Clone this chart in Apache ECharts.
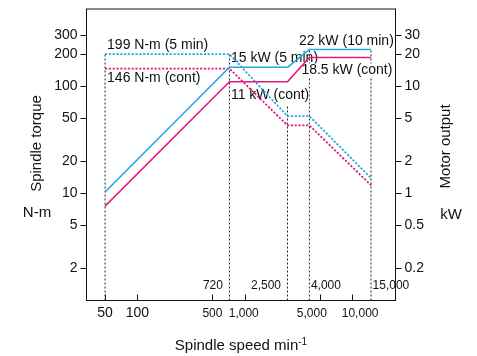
<!DOCTYPE html>
<html>
<head>
<meta charset="utf-8">
<script src="https://cdn.jsdelivr.net/npm/echarts@6/dist/echarts.min.js"></script>
<style>
  html, body { margin: 0; padding: 0; background: #fff; }
  #chart { width: 477px; height: 356px; }
</style>
</head>
<body>
<div id="chart"></div>
<script>
// speed break points (min-1) shared by all four curves
const speedKnots = [50, 720, 2500, 4000, 15000];
const power5min = [1.03, 15, 15, 22, 22];        // kW, solid blue
const powerCont = [0.76, 11, 11, 18.5, 18.5];    // kW, solid pink
const torque5min = [199, 199, 52.5, 52.5, 13.9]; // N-m, dotted blue
const torqueCont = [146, 146, 43, 43, 11.9];     // N-m, dotted pink

// dashed guides: speed and the torque where each guide stops
const guideSpeeds = [50, 720, 2500, 4000, 15000];
const guideTops = [199, 199, 66, 219, 219];
const guideLabels = ['', '720', '2,500', '4,000', '15,000'];

const speedTicks = [50, 100, 500, 1000, 5000, 10000];
const speedTickLabels = ['50', '100', '500', '1,000', '5,000', '10,000'];
const torqueTicks = [2, 5, 10, 20, 50, 100, 200, 300];
const powerTicks = [0.2, 0.5, 1, 2, 5, 10, 20, 30];

const BLUE = '#22a9e3';
const PINK = '#e8187f';
const FONT = '"Liberation Sans", Arial, sans-serif';
const lg = Math.log10;

function pickLabel(v, ticks, labels) {
  let best = 0;
  ticks.forEach((t, i) => {
    if (Math.abs(lg(t) - v) < Math.abs(lg(ticks[best]) - v)) best = i;
  });
  return labels ? labels[best] : String(ticks[best]);
}

const chart = echarts.init(document.getElementById('chart'), null, { renderer: 'canvas' });

const curve = (vals, color, dotted, yIdx) => ({
  type: 'line',
  yAxisIndex: yIdx,
  z: 4,
  symbol: 'none',
  silent: true,
  data: speedKnots.map((s, i) => [lg(s), lg(vals[i])]),
  lineStyle: { color: color, width: dotted ? 1.8 : 1.6, type: dotted ? [2.2, 1.6] : 'solid' }
});

const guides = guideSpeeds.map((s, i) => ({
  type: 'line',
  yAxisIndex: 0,
  z: 2,
  symbol: 'none',
  silent: true,
  data: [[lg(s), 0], [lg(s), lg(guideTops[i])]],
  lineStyle: { color: '#222', width: 1, type: [2, 2] }
}));

chart.setOption({
  animation: false,
  grid: {
    left: 86.5, right: 81.5, top: 9, bottom: 55.5,
    show: true, borderColor: '#111', borderWidth: 1, backgroundColor: 'transparent'
  },
  xAxis: {
    type: 'value', min: 1.526, max: 4.404,
    splitLine: { show: false },
    axisLine: { lineStyle: { color: '#111' } },
    axisTick: { inside: true, length: 6, customValues: speedTicks.map(lg), lineStyle: { color: '#111' } },
    axisLabel: { show: false } // drawn below so 5,000 / 10,000 can sit apart
  },
  yAxis: [{
    type: 'value', min: 0, max: 2.72, position: 'left',
    splitLine: { show: false },
    axisLine: { show: true, lineStyle: { color: '#111' } },
    axisTick: { length: 6, customValues: torqueTicks.map(lg), lineStyle: { color: '#111' } },
    axisLabel: {
      customValues: torqueTicks.map(lg), margin: 9, hideOverlap: false,
      formatter: v => pickLabel(v, torqueTicks),
      fontFamily: FONT, fontSize: 14, color: '#111'
    }
  }, {
    type: 'value', min: -1, max: 1.72, position: 'right',
    splitLine: { show: false },
    axisLine: { show: true, lineStyle: { color: '#111' } },
    axisTick: { length: 6, customValues: powerTicks.map(lg), lineStyle: { color: '#111' } },
    axisLabel: {
      customValues: powerTicks.map(lg), margin: 9, hideOverlap: false,
      formatter: v => pickLabel(v, powerTicks),
      fontFamily: FONT, fontSize: 14, color: '#111'
    }
  }],
  series: [
    curve(torque5min, BLUE, true, 0),
    curve(torqueCont, PINK, true, 0),
    curve(power5min, BLUE, false, 1),
    curve(powerCont, PINK, false, 1)
  ].concat(guides)
});

const els = [];

// speed tick labels, placed through the x scale
const nudge = [0, 0, 0, -1, -8, 8];
speedTicks.forEach((s, i) => {
  const p = chart.convertToPixel({ seriesIndex: 0 }, [lg(s), 0]);
  const wide = s < 200;
  els.push({
    type: 'text', z: 3,
    style: {
      text: speedTickLabels[i], x: p[0] + nudge[i], y: p[1] + 13,
      fill: '#111', font: (wide ? '14px ' : '12px ') + FONT,
      textAlign: 'center', textVerticalAlign: 'middle'
    }
  });
});

// annotations anchored to data points (series 0 = torque axis, series 2 = power axis)
const notes = [
  { text: '199 N-m (5 min)', s: 0, at: [50, 199], dx: 2, dy: -9 },
  { text: '146 N-m (cont)', s: 0, at: [50, 146], dx: 2, dy: 10 },
  { text: '15 kW (5 min)', s: 2, at: [720, 15], dx: 1.5, dy: -9.5 },
  { text: '11 kW (cont)', s: 2, at: [720, 11], dx: 1.5, dy: 13.5, bg: true },
  { text: '22 kW (10 min)', s: 2, at: [4000, 22], dx: -10.5, dy: -8.5 },
  { text: '18.5 kW (cont)', s: 2, at: [4000, 18.5], dx: -8, dy: 13, bg: true }
];

notes.forEach(n => {
  const p = chart.convertToPixel({ seriesIndex: n.s }, [lg(n.at[0]), lg(n.at[1])]);
  els.push({
    type: 'text', z: 3,
    style: {
      text: n.text, x: p[0] + n.dx, y: p[1] + n.dy,
      fill: '#111', font: '14px ' + FONT,
      textAlign: 'left', textVerticalAlign: 'middle',
      backgroundColor: n.bg ? '#fff' : null
    }
  });
});

guideSpeeds.forEach((s, i) => {
  if (!guideLabels[i]) return;
  const p = chart.convertToPixel({ seriesIndex: 0 }, [lg(s), 0]);
  const right = s < 3000;
  els.push({
    type: 'text', z: 3,
    style: {
      text: guideLabels[i], x: p[0] + (right ? -6.5 : 1.5), y: p[1] - 15,
      fill: '#111', font: '12px ' + FONT,
      textAlign: right ? 'right' : 'left', textVerticalAlign: 'middle'
    }
  });
});

// axis titles
els.push(
  { type: 'text', x: 37, y: 143.5, rotation: Math.PI / 2,
    style: { text: 'Spindle torque', fill: '#111', font: '15px ' + FONT, textAlign: 'center', textVerticalAlign: 'middle' } },
  { type: 'text', x: 37, y: 213,
    style: { text: 'N-m', fill: '#111', font: '15px ' + FONT, textAlign: 'center', textVerticalAlign: 'middle' } },
  { type: 'text', x: 446, y: 146.5, rotation: Math.PI / 2,
    style: { text: 'Motor output', fill: '#111', font: '15px ' + FONT, textAlign: 'center', textVerticalAlign: 'middle' } },
  { type: 'text', x: 451, y: 215,
    style: { text: 'kW', fill: '#111', font: '15px ' + FONT, textAlign: 'center', textVerticalAlign: 'middle' } },
  { type: 'text', x: 241, y: 346,
    style: {
      text: '{a|Spindle speed min}{s|-1}', textAlign: 'center', textVerticalAlign: 'middle',
      rich: {
        a: { fontFamily: FONT, fontSize: 15, fill: '#111', lineHeight: 18 },
        s: { fontFamily: FONT, fontSize: 10, fill: '#111', verticalAlign: 'top', lineHeight: 18 }
      }
    } }
);

chart.setOption({ graphic: { elements: els } });
</script>
</body>
</html>
